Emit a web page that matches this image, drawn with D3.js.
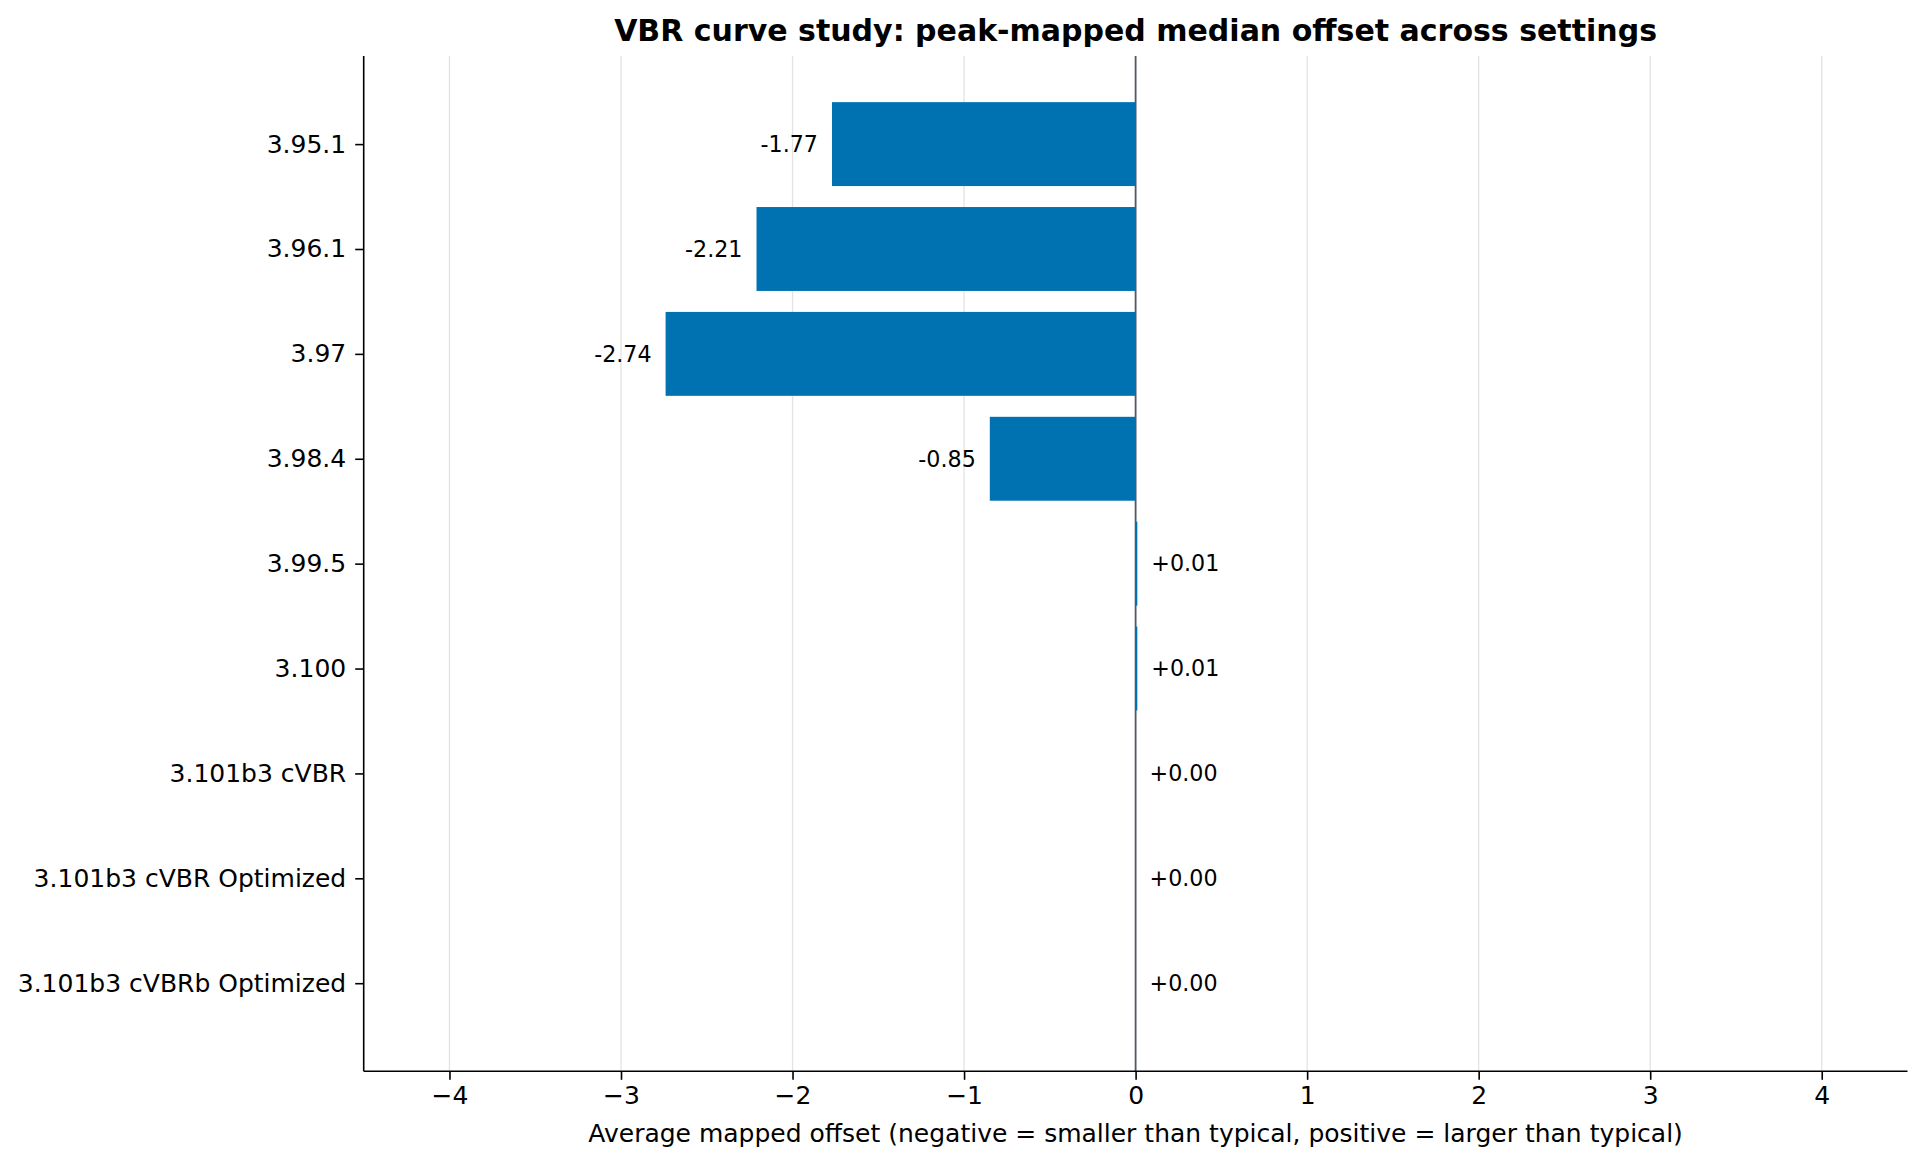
<!DOCTYPE html>
<html><head><meta charset="utf-8">
<script src="https://cdn.jsdelivr.net/npm/d3@7"></script>
<style>body{margin:0;background:#fff}svg{display:block;font-family:"DejaVu Sans",sans-serif}</style>
</head><body>
<script>
const categories = ["3.95.1","3.96.1","3.97","3.98.4","3.99.5","3.100","3.101b3 cVBR","3.101b3 cVBR Optimized","3.101b3 cVBRb Optimized"];
const values = [-1.77,-2.21,-2.74,-0.85,0.01,0.01,0.00,0.00,0.00];
const xTicks = [-4,-3,-2,-1,0,1,2,3,4];
const title = "VBR curve study: peak-mapped median offset across settings";
const xLabel = "Average mapped offset (negative = smaller than typical, positive = larger than typical)";

const W = 1926, H = 1165;
const L = 363.7, R = 1907.5, T = 56, B = 1071.3;
const svg = d3.select("body").append("svg").attr("width", W).attr("height", H);

const x = d3.scaleLinear().domain([-4.5, 4.5]).range([L, R]);
const y = d3.scaleLinear().domain([-0.84, categories.length - 1 + 0.84]).range([T, B]);
const step = y(1) - y(0), bh = step * 0.8;

// grid
svg.append("g").selectAll("line").data(xTicks).join("line")
  .attr("x1", d => x(d)).attr("x2", d => x(d)).attr("y1", T).attr("y2", B)
  .attr("stroke", "#e3e3e3").attr("stroke-width", 1.3);

// zero line
svg.append("line").attr("x1", x(0)).attr("x2", x(0)).attr("y1", T).attr("y2", B)
  .attr("stroke", "#505a67").attr("stroke-width", 1.8);

// bars
svg.append("g").selectAll("rect").data(values).join("rect")
  .attr("x", d => Math.min(x(0), x(d)))
  .attr("width", d => Math.abs(x(d) - x(0)))
  .attr("y", (d, i) => y(i) - bh / 2).attr("height", bh)
  .attr("fill", "#0072B2");

// value labels
svg.append("g").selectAll("text").data(values).join("text")
  .attr("x", d => d < 0 ? x(d) - 14 : x(d) + 14)
  .attr("y", (d, i) => y(i))
  .attr("dy", "0.35em")
  .attr("text-anchor", d => d < 0 ? "end" : "start")
  .attr("font-size", 22.2).attr("fill", "#000")
  .text(d => (d < 0 ? "-" + Math.abs(d).toFixed(2) : "+" + d.toFixed(2)));

// x axis
const xa = svg.append("g").attr("transform", `translate(0,${B})`)
  .call(d3.axisBottom(x).tickValues(xTicks).tickSize(8.5).tickPadding(6)
    .tickFormat(d => d < 0 ? "\u2212" + Math.abs(d) : String(d)));
xa.select(".domain").attr("d", `M${L},0H${R}`).attr("stroke", "#000").attr("stroke-width", 1.6);
xa.selectAll(".tick line").attr("stroke", "#000").attr("stroke-width", 1.6);
xa.selectAll(".tick text").attr("font-size", 25).attr("fill", "#000").attr("font-family", "DejaVu Sans");

// y axis
const ya = svg.append("g").attr("transform", `translate(${L},0)`)
  .call(d3.axisLeft(y).tickValues(d3.range(categories.length)).tickSize(8.5).tickPadding(9)
    .tickFormat(i => categories[i]));
ya.select(".domain").attr("d", `M0,${T}V${B}`).attr("stroke", "#000").attr("stroke-width", 1.6);
ya.selectAll(".tick line").attr("stroke", "#000").attr("stroke-width", 1.6);
ya.selectAll(".tick text").attr("font-size", 25).attr("fill", "#000").attr("font-family", "DejaVu Sans");

// title
svg.append("text").attr("x", (L + R) / 2).attr("y", 41).attr("text-anchor", "middle")
  .attr("font-size", 30).attr("font-weight", "bold").text(title);

// x label
svg.append("text").attr("x", (L + R) / 2).attr("y", 1141.5).attr("text-anchor", "middle")
  .attr("font-size", 25).text(xLabel);
</script>
</body></html>
